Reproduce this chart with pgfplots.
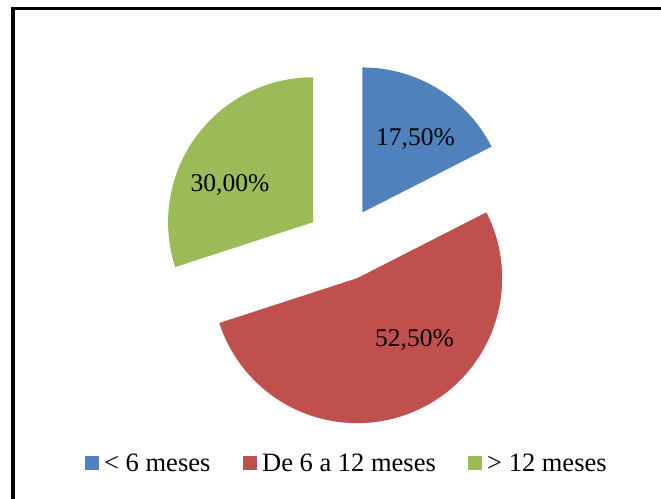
\documentclass[border=0pt]{standalone}
\usepackage{pgfplots}
\pgfplotsset{compat=1.18}
\usepackage{fontspec}
\setmainfont{Liberation Serif}
\definecolor{cblue}{HTML}{4F81BD}
\definecolor{cred}{HTML}{C0504D}
\definecolor{cgreen}{HTML}{9BBB59}
% data (percent)
\def\va{17.5}\def\vb{52.5}\def\vc{30.0}
\pgfmathsetmacro{\aA}{90}
\pgfmathsetmacro{\aB}{\aA-3.6*\va}
\pgfmathsetmacro{\aC}{\aB-3.6*\vb}
\pgfmathsetmacro{\aD}{\aC-3.6*\vc}
\pgfmathsetmacro{\mA}{(\aA+\aB)/2}
\pgfmathsetmacro{\mB}{(\aB+\aC)/2}
\pgfmathsetmacro{\mC}{(\aC+\aD)/2}
\begin{document}
\begin{tikzpicture}
\useasboundingbox (0,0) rectangle (661bp,499bp);
\begin{axis}[
  scale only axis, width=661bp, height=499bp,
  xmin=0, xmax=661, ymin=0, ymax=499,
  hide axis, clip=false, anchor=south west, at={(0,0)}]
  \def\R{145bp}\def\E{37bp}
  \fill[cblue] ([shift={(\mA:\E)}]axis cs:343,255) -- ++(\aA:\R) arc[start angle=\aA, end angle=\aB, radius=\R] -- cycle;
  \fill[cred] ([shift={(\mB:\E)}]axis cs:343,255) -- ++(\aB:\R) arc[start angle=\aB, end angle=\aC, radius=\R] -- cycle;
  \fill[cgreen] ([shift={(\mC:\E)}]axis cs:343,255) -- ++(\aC:\R) arc[start angle=\aC, end angle=\aD, radius=\R] -- cycle;
  \begin{scope}[font=\fontsize{25.5bp}{30bp}\selectfont, inner sep=0pt]
  \node[anchor=base] at (axis cs:415.5,353) {17,50\%};
  \node[anchor=base] at (axis cs:230,307) {30,00\%};
  \node[anchor=base] at (axis cs:414.5,152) {52,50\%};
  \end{scope}
  \begin{scope}[font=\fontsize{26.5bp}{30bp}\selectfont, inner sep=0pt]
  \fill[cblue] (axis cs:85,29) rectangle (axis cs:99,43);
  \node[anchor=base west] at (axis cs:104,28) {< 6 meses};
  \fill[cred] (axis cs:243,29) rectangle (axis cs:257,43);
  \node[anchor=base west] at (axis cs:262,28) {De 6 a 12 meses};
  \fill[cgreen] (axis cs:468,29) rectangle (axis cs:482,43);
  \node[anchor=base west] at (axis cs:487,28) {> 12 meses};
  \end{scope}
  \draw[line width=3.5bp, line join=miter] (axis cs:13,0) -- (axis cs:13,490.5) -- (axis cs:661,490.5);
\end{axis}
\end{tikzpicture}
\end{document}
